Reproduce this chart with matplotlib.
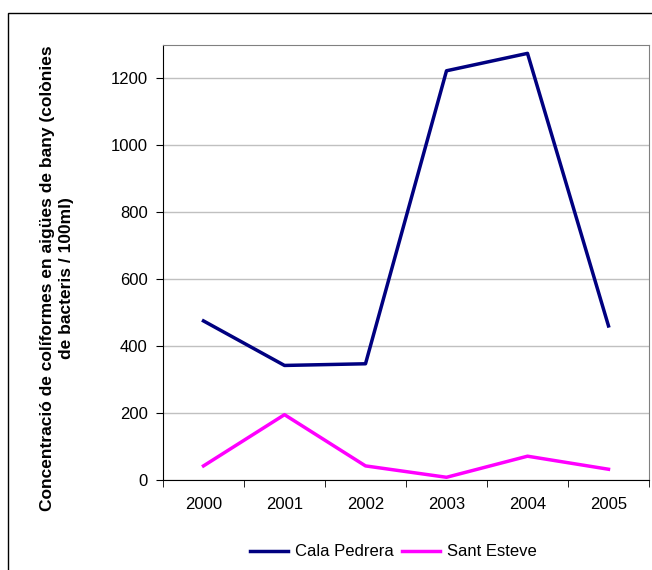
import numpy as np
import matplotlib.pyplot as plt
from matplotlib.patches import Rectangle

plt.rcParams['font.family'] = ['Liberation Sans', 'DejaVu Sans']

# data
years = ['2000', '2001', '2002', '2003', '2004', '2005']
cala_pedrera = [476, 343, 348, 1223, 1275, 461]
sant_esteve = [43, 196, 43, 9, 72, 33]

fig = plt.figure(figsize=(6.52, 5.70), dpi=100)
W, H = 652, 570

# outer chart border (runs off the right and bottom edge)
fig.patches.append(Rectangle((8 / W, -0.1), 1.0, 1 - 13 / H + 0.1,
                             transform=fig.transFigure, fill=False,
                             edgecolor='black', linewidth=1.0))

ax = fig.add_axes([163 / W, 1 - 480.3 / H, (649 - 163) / W, (480.3 - 45) / H])

x = np.arange(len(years))
ax.plot(x, cala_pedrera, color='#000080', linewidth=2.5, label='Cala Pedrera')
ax.plot(x, sant_esteve, color='#FF00FF', linewidth=2.5, label='Sant Esteve')

ax.set_xlim(-0.5, len(years) - 0.5)
ax.set_ylim(0, 1300)
ax.set_yticks(np.arange(0, 1201, 200))
ax.yaxis.grid(True, color='#c0c0c0', linewidth=1)
ax.set_axisbelow(True)

ax.set_xticks(x)
ax.set_xticklabels(years)
ax.set_xticks(np.arange(-0.5, len(years)), minor=True)
ax.tick_params(axis='x', which='major', length=0, pad=12, labelsize=12)
ax.tick_params(axis='x', which='minor', length=5, direction='out', color='black')
ax.tick_params(axis='y', length=5, direction='out', labelsize=12, pad=6)

ax.spines['top'].set_color('#808080')
ax.spines['right'].set_color('#808080')
ax.spines['left'].set_color('black')
ax.spines['bottom'].set_color('black')

fig.text(57 / W, 1 - 278 / H,
         'Concentració de colíformes en aigües de bany (colònies\nde bacteris / 100ml)',
         rotation=90, ha='center', va='center', multialignment='center',
         fontsize=12.5, fontweight='bold', linespacing=1.3)

fig.legend(loc='center', bbox_to_anchor=(393 / W, 1 - 552 / H), ncol=2,
           frameon=False, fontsize=12, handlelength=2.3, columnspacing=0.5,
           handletextpad=0.4)

fig.savefig('out.png', dpi=100)
